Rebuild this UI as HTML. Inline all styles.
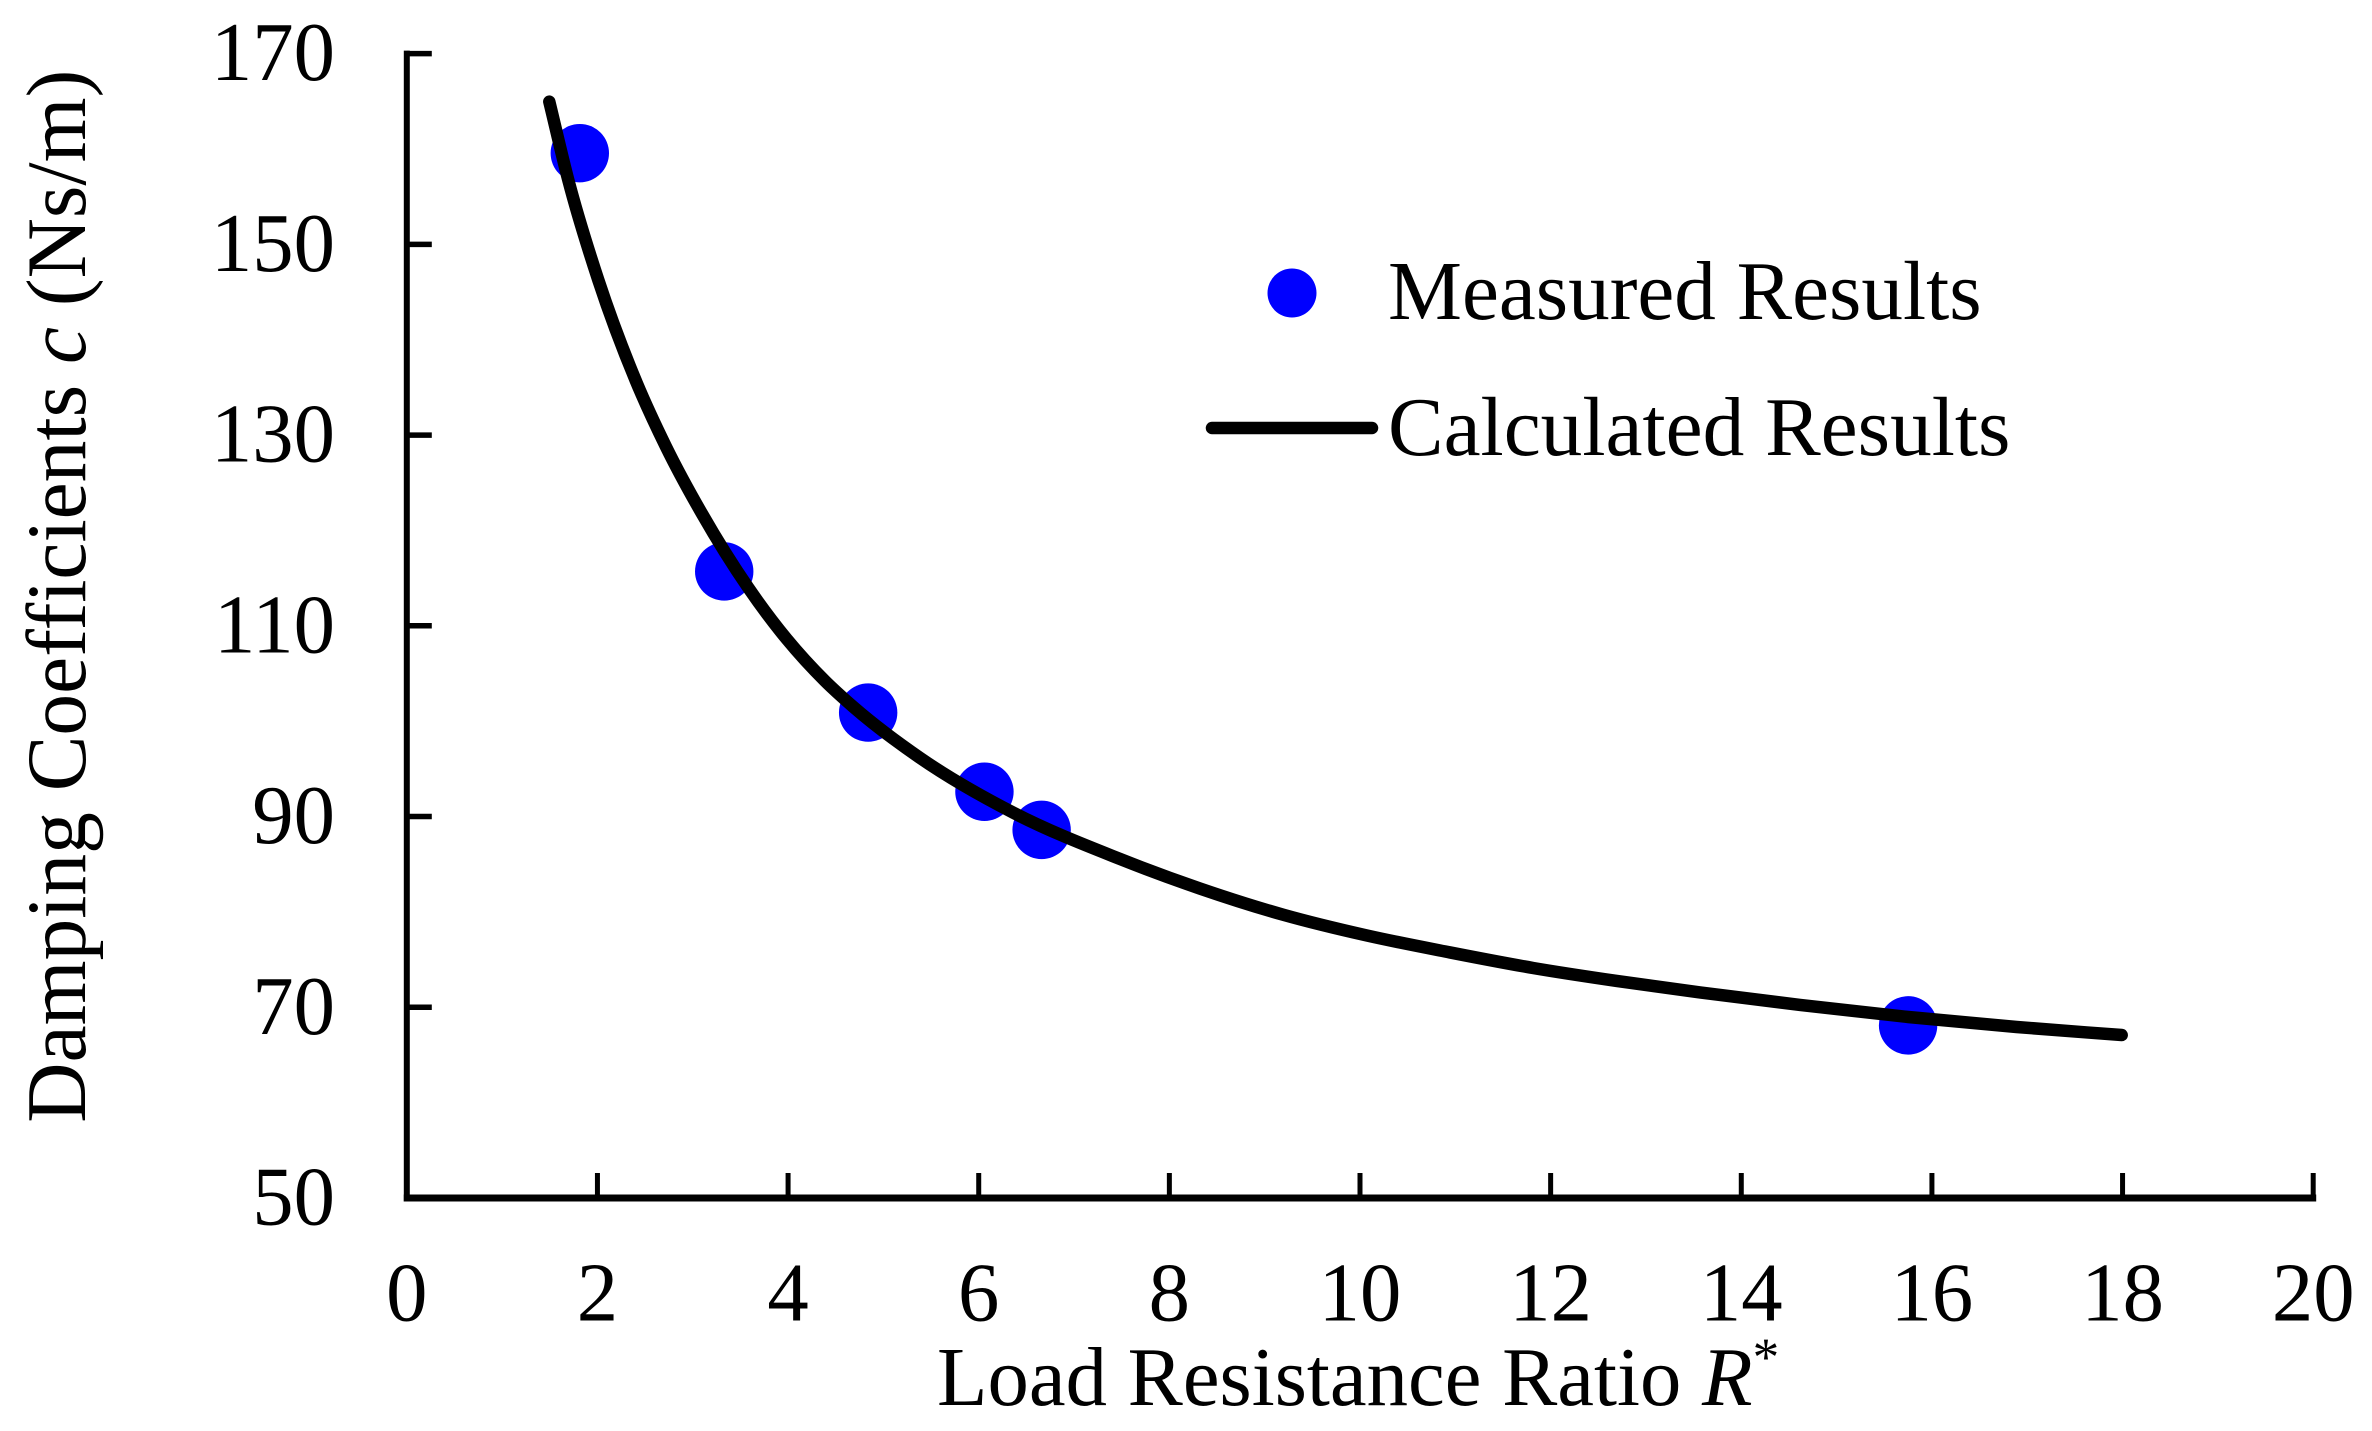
<!DOCTYPE html>
<html lang="en">
<head>
<meta charset="utf-8">
<title>Damping Coefficients vs Load Resistance Ratio</title>
<style>
html,body{margin:0;padding:0;background:#fff;}
svg{display:block;}
text{font-family:"Liberation Serif","Times New Roman",serif;fill:#000;font-size:84px;}
</style>
</head>
<body>
<svg id="chart" xmlns="http://www.w3.org/2000/svg" width="2372" height="1431" viewBox="0 0 2372 1431">
  <rect x="0" y="0" width="2372" height="1431" fill="#fff"/>
  <g id="axes"></g>
  <g id="series"></g>
  <text font-size="85" style="font-size:85px" transform="translate(85,1122.7) rotate(-90) scale(0.982,1)">Damping Coefficients <tspan font-style="italic">c</tspan> (Ns/m)</text>
  <text transform="translate(937,1405) scale(0.985,1)">Load Resistance Ratio <tspan font-style="italic">R</tspan><tspan style="font-size:54px" dy="-30">*</tspan></text>
  <g>
    <ellipse cx="1292" cy="293" rx="24.5" ry="24.5" fill="#0000ff"/>
    <text transform="translate(1388,319) scale(0.99,1)">Measured Results</text>
    <line x1="1212" y1="428" x2="1372" y2="428" stroke="#000" stroke-width="12.5" stroke-linecap="round"/>
    <text transform="translate(1388,455) scale(0.992,1)">Calculated Results</text>
  </g>
</svg>
<script>
var xTickLabels = [0, 2, 4, 6, 8, 10, 12, 14, 16, 18, 20];
var yTickLabels = [50, 70, 90, 110, 130, 150, 170];
var measuredR = [1.815, 3.33, 4.84, 6.06, 6.66, 15.75];
var measuredC = [159.56, 115.7, 100.9, 92.6, 88.6, 68.1];
var calculatedR = [1.495, 1.694, 2.009, 2.399, 2.719, 3.094, 3.583, 3.985, 4.387, 4.684, 5.384, 6.363, 7.482, 8.321, 9.195, 10.07, 10.944, 11.815, 12.693, 13.567, 14.616, 15.752, 16.889, 17.991];
var calculatedC = [164.96, 156.75, 146.26, 135.78, 128.78, 121.8, 113.98, 108.62, 104.22, 101.5, 96.15, 90.4, 85.55, 82.45, 79.7, 77.53, 75.75, 74.12, 72.76, 71.55, 70.24, 68.98, 67.93, 67.09];

var SVG_NS = 'http://www.w3.org/2000/svg';
var plotLeft = 406.8, plotRight = 2313.2, plotTop = 53.6, plotBottom = 1198;
var xMin = 0, xMax = 20, yMin = 50, yMax = 170;

function xScale(v) { return plotLeft + (v - xMin) / (xMax - xMin) * (plotRight - plotLeft); }
function yScale(v) { return plotBottom - (v - yMin) / (yMax - yMin) * (plotBottom - plotTop); }

function make(tag, attrs, parent) {
  var el = document.createElementNS(SVG_NS, tag);
  for (var k in attrs) { el.setAttribute(k, attrs[k]); }
  parent.appendChild(el);
  return el;
}

var axes = document.getElementById('axes');
var series = document.getElementById('series');

var yAxisLine = make('line', {x1: plotLeft, y1: plotTop - 3, x2: plotLeft, y2: plotBottom + 3.5, stroke: '#000', 'stroke-width': 6}, axes);



var xAxisLine = make('line', {x1: plotLeft - 3, y1: plotBottom, x2: plotRight + 3, y2: plotBottom, stroke: '#000', 'stroke-width': 7}, axes);



xTickLabels.forEach(function (v) {
  if (v !== xMin) {
    var tick = make('line', {x1: xScale(v), y1: plotBottom, x2: xScale(v), y2: plotBottom - 25, stroke: '#000', 'stroke-width': 5}, axes);
    
    
  }
  var label = make('text', {'text-anchor': 'middle', transform: 'translate(' + xScale(v) + ',1320.5) scale(0.985,1)'}, axes);
  label.textContent = String(v);
  
  
});

yTickLabels.forEach(function (v) {
  if (v !== yMin) {
    var tick = make('line', {x1: plotLeft, y1: yScale(v), x2: plotLeft + 25, y2: yScale(v), stroke: '#000', 'stroke-width': 5.5}, axes);
    
    
  }
  var label = make('text', {'text-anchor': 'end', transform: 'translate(335,' + (yScale(v) + 26.5) + ') scale(0.985,1)'}, axes);
  label.textContent = String(v);
  
  
});

measuredR.forEach(function (r, i) {
  var dot = make('circle', {cx: xScale(r), cy: yScale(measuredC[i]), r: 29.2, fill: '#0000ff'}, series);
  
  
});

function smoothPath(pts) {
  var n = pts.length, slopes = [], i;
  for (i = 0; i < n; i++) {
    if (i === 0) {
      slopes.push((pts[1][1] - pts[0][1]) / (pts[1][0] - pts[0][0]));
    } else if (i === n - 1) {
      slopes.push((pts[n - 1][1] - pts[n - 2][1]) / (pts[n - 1][0] - pts[n - 2][0]));
    } else {
      var h0 = pts[i][0] - pts[i - 1][0], h1 = pts[i + 1][0] - pts[i][0];
      var s0 = (pts[i][1] - pts[i - 1][1]) / h0, s1 = (pts[i + 1][1] - pts[i][1]) / h1;
      slopes.push((h1 * s0 + h0 * s1) / (h0 + h1));
    }
  }
  var d = 'M' + pts[0][0] + ' ' + pts[0][1];
  for (i = 0; i < n - 1; i++) {
    var h = (pts[i + 1][0] - pts[i][0]) / 3;
    d += ' C' + (pts[i][0] + h) + ' ' + (pts[i][1] + slopes[i] * h) + ' ' +
         (pts[i + 1][0] - h) + ' ' + (pts[i + 1][1] - slopes[i + 1] * h) + ' ' +
         pts[i + 1][0] + ' ' + pts[i + 1][1];
  }
  return d;
}

var curvePoints = calculatedR.map(function (r, i) { return [xScale(r), yScale(calculatedC[i])]; });
var curve = make('path', {d: smoothPath(curvePoints), fill: 'none', stroke: '#000', 'stroke-width': 12.5, 'stroke-linecap': 'round', 'stroke-linejoin': 'round'}, series);


</script>
</body>
</html>
